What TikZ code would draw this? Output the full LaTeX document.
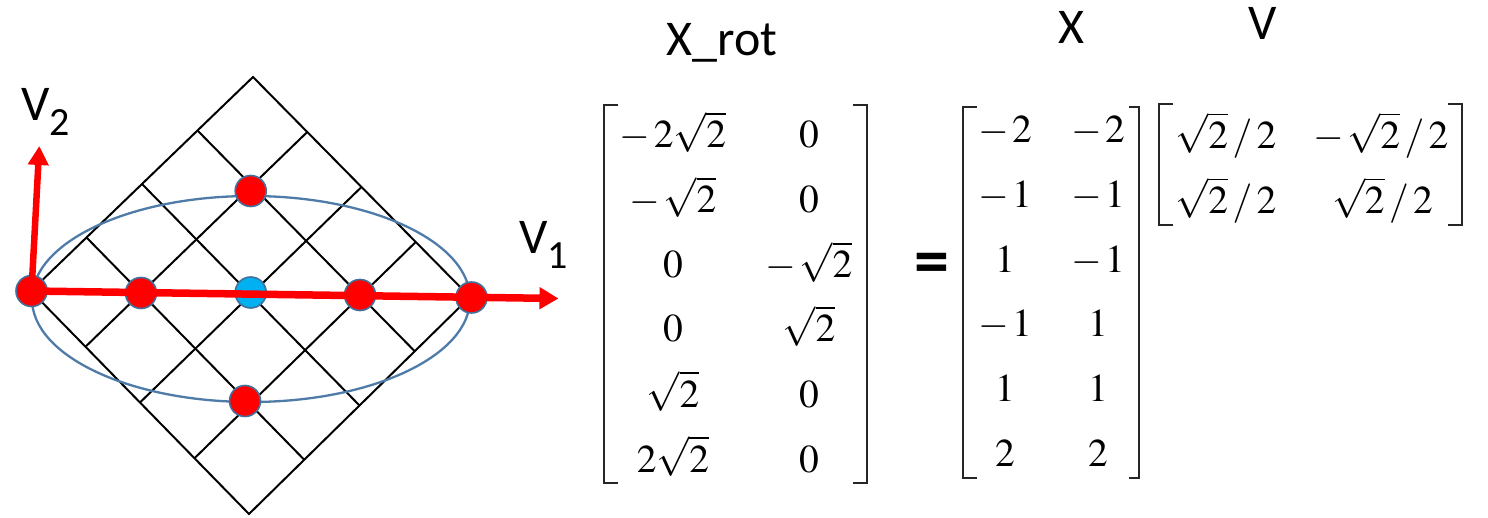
\documentclass[tikz,border=0pt]{standalone}
\usepackage{mathptmx}
\usepackage[no-math]{fontspec}
\setmainfont{Liberation Serif}
\newfontfamily\labfont{Carlito}
\usetikzlibrary{calc,arrows.meta}
\definecolor{axisred}{HTML}{FF0000}
\definecolor{dotblue}{HTML}{00B0F0}
\definecolor{dotrim}{HTML}{41719C}
\definecolor{ellcol}{HTML}{4F7BA8}
\tikzset{
  gridline/.style={draw=black, line width=2pt},
  dotbase/.style={circle, draw=dotrim, line width=1.6pt, minimum size=31pt, inner sep=0pt},
  reddot/.style={dotbase, fill=axisred},
  bluedot/.style={dotbase, fill=dotblue},
  axisline/.style={draw=axisred, line width=7.5pt, -{Triangle[length=19pt,width=21pt]}},
  axisline2/.style={draw=axisred, line width=6.5pt, -{Triangle[length=19pt,width=20pt]}},
  lab/.style={inner sep=0pt, font=\labfont\fontsize{50}{54}\selectfont},
  ent/.style={anchor=base, inner sep=0pt, font=\fontsize{39.5}{46}\selectfont},
  brk/.style={draw=black!85, line width=2pt},
  eqsign/.style={inner sep=0pt, font=\labfont\bfseries\fontsize{70}{70}\selectfont}
}
\newcommand{\mneg}{-\mkern1.5mu}
\newcommand{\slsp}{\mkern2mu/\mkern2mu}
\begin{document}
\begin{tikzpicture}[x=1pt,y=-1pt]
\useasboundingbox (0,0) rectangle (1488,518);
\fill[white] (0,0) rectangle (1488,518);
% diamond grid
\coordinate (T) at (253,77);
\coordinate (R) at (470,297);
\coordinate (B) at (249,514);
\coordinate (L) at (31,291);
\draw[gridline, line join=miter] (T) -- (R) -- (B) -- (L) -- cycle;
\foreach \k in {1,2,3} {
  \draw[gridline] ($(L)!\k/4!(T)$) -- ($(B)!\k/4!(R)$);
  \draw[gridline] ($(L)!\k/4!(B)$) -- ($(T)!\k/4!(R)$);
}
% ellipse
\draw[draw=ellcol, line width=2.3pt] (251,299) ellipse [x radius=219pt, y radius=103pt];
% dots
\node[reddot] (d1) at (31.5,291) {};
\node[reddot] (d2) at (141,293) {};
\node[bluedot] (d3) at (250.7,292.5) {};
\node[reddot] (d4) at (360,295) {};
\node[reddot] (d5) at (471.5,297.5) {};
\node[reddot] (d6) at (250.7,191) {};
\node[reddot] (d7) at (245,401) {};
% axes
\coordinate (v1tip) at (558.5,298.5);
\coordinate (v2tip) at (39.3,146);
\draw[axisline] (d1.center) -- (v1tip);
\draw[axisline2] (d1.center) -- (v2tip);
% axis labels
\node[lab, anchor=base west] (v2lab) at (21,121) {V\raisebox{-15pt}{\fontsize{40}{40}\selectfont 2}};
\node[lab, anchor=base west] (v1lab) at (519,254) {V\raisebox{-15pt}{\fontsize{40}{40}\selectfont 1}};
% headings
\node[lab, anchor=base] (hxrot) at (722,56) {X\_rot};
\node[lab, anchor=base] (hx) at (1071.5,44) {X};
\node[lab, anchor=base] (hv) at (1263,40) {V};
% X_rot matrix
\draw[brk] (618,105) -- (604,105) -- (604,483) -- (618,483);
\draw[brk] (853,105) -- (867,105) -- (867,483) -- (853,483);
\node[ent] (a11) at (673,148) {$\mneg 2\sqrt{2}$};
\node[ent] (a12) at (809,148) {$0$};
\node[ent] (a21) at (673,213) {$\mneg\sqrt{2}$};
\node[ent] (a22) at (809,213) {$0$};
\node[ent] (a31) at (673,278) {$0$};
\node[ent] (a32) at (809,278) {$\mneg\sqrt{2}$};
\node[ent] (a41) at (673,342) {$0$};
\node[ent] (a42) at (809,342) {$\sqrt{2}$};
\node[ent] (a51) at (673,407) {$\sqrt{2}$};
\node[ent] (a52) at (809,407) {$0$};
\node[ent] (a61) at (673,472) {$2\sqrt{2}$};
\node[ent] (a62) at (809,472) {$0$};
% equals
\node[eqsign] (eq) at (932,269) {=};
% X matrix
\draw[brk] (977,107) -- (963.3,107) -- (963.3,478) -- (977,478);
\draw[brk] (1129,107) -- (1138.7,107) -- (1138.7,478) -- (1129,478);
\node[ent] (b11) at (1005,143) {$\mneg 2$};
\node[ent] (b12) at (1098,143) {$\mneg 2$};
\node[ent] (b21) at (1005,207.7) {$\mneg 1$};
\node[ent] (b22) at (1098,207.7) {$\mneg 1$};
\node[ent] (b31) at (1005,272.4) {$1$};
\node[ent] (b32) at (1098,272.4) {$\mneg 1$};
\node[ent] (b41) at (1005,337) {$\mneg 1$};
\node[ent] (b42) at (1098,337) {$1$};
\node[ent] (b51) at (1005,401.8) {$1$};
\node[ent] (b52) at (1098,401.8) {$1$};
\node[ent] (b61) at (1005,466.5) {$2$};
\node[ent] (b62) at (1098,466.5) {$2$};
% V matrix
\draw[brk] (1173,104) -- (1158.5,104) -- (1158.5,225.3) -- (1173,225.3);
\draw[brk] (1448,104) -- (1462.3,104) -- (1462.3,225.3) -- (1448,225.3);
\node[ent] (c11) at (1226,148.3) {$\sqrt{2}\slsp 2$};
\node[ent] (c12) at (1381,148.3) {$\mneg\sqrt{2}\slsp 2$};
\node[ent] (c21) at (1226,213.3) {$\sqrt{2}\slsp 2$};
\node[ent] (c22) at (1382.5,213.3) {$\sqrt{2}\slsp 2$};
\end{tikzpicture}
\end{document}
